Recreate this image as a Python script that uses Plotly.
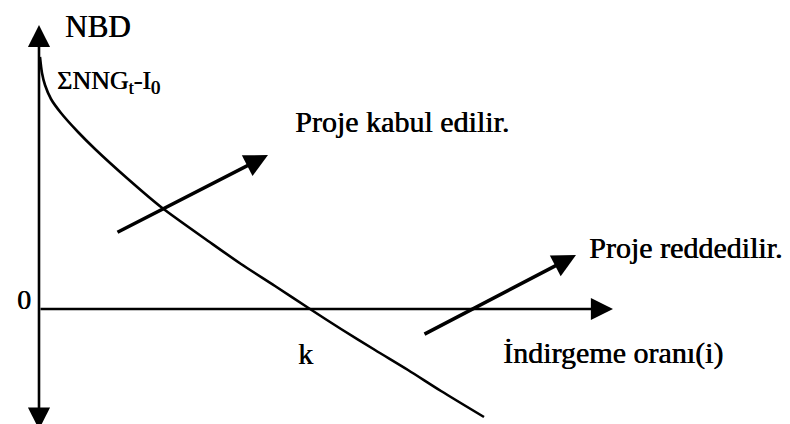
import plotly.graph_objects as go

# NPV (NBD) curve vs. discount rate (schematic units)
rate = [1, 3, 6, 12, 22, 39, 56, 89, 122, 172, 202, 236, 271, 302, 336, 369, 402, 445]
npv = [252, 236, 224, 210, 196, 177, 160, 130, 102, 66, 45, 23, 0, -20, -41, -61, -82, -108]

# axis extents (schematic units)
x_axis_end = 574
y_axis_top = 284
y_axis_bottom = -122

# direction arrows [start, end]
accept_x = [77, 229]
accept_y = [76, 154]
reject_x = [384, 537]
reject_y = [-26, 54]

k_rate = 271

FONT = "Liberation Serif, Times New Roman, serif"

fig = go.Figure()
fig.add_trace(go.Scatter(x=rate, y=npv, mode="lines",
                         line=dict(color="black", width=2.6, shape="spline", smoothing=0.8),
                         hoverinfo="skip", showlegend=False))

ann = []
# horizontal axis
ann.append(dict(x=x_axis_end, y=0, ax=0, ay=0, xref="x", yref="y", axref="x", ayref="y",
                showarrow=True, arrowhead=2, arrowsize=1.7, arrowwidth=2.6, arrowcolor="black", text=""))
# vertical axis (double headed)
ann.append(dict(x=0, y=y_axis_top, ax=0, ay=y_axis_bottom, xref="x", yref="y", axref="x", ayref="y",
                showarrow=True, arrowhead=2, startarrowhead=2, arrowside="end+start",
                arrowsize=1.7, startarrowsize=1.7, arrowwidth=2.6, arrowcolor="black", text=""))
# accept / reject arrows
for xs, ys in ((accept_x, accept_y), (reject_x, reject_y)):
    ann.append(dict(x=xs[1], y=ys[1], ax=xs[0], ay=ys[0], xref="x", yref="y", axref="x", ayref="y",
                    showarrow=True, arrowhead=2, arrowsize=1.3, arrowwidth=3.6, arrowcolor="black", text=""))

def label(text, x, y, size=30, xanchor="left"):
    return dict(text=text, x=x, y=y, xref="x", yref="y", showarrow=False,
                xanchor=xanchor, yanchor="middle",
                font=dict(family=FONT, size=size, color="black", shadow="0.6px 0px 0px black"))

ann += [
    label("NBD", 24, 283, size=31),
    label("ΣNNG<sub>t</sub>-I<sub>0</sub>", 16, 227, size=26),
    label("Proje kabul edilir.", 254, 188),
    label("Proje reddedilir.", 548, 62),
    label("0", -15, 10, size=28, xanchor="center"),
    label("k", k_rate - 14, -44),
    label("İndirgeme oranı(i)", 462, -44),
]

fig.update_layout(
    width=790, height=424, autosize=False,
    margin=dict(l=0, r=0, t=0, b=0),
    paper_bgcolor="white", plot_bgcolor="white",
    xaxis=dict(range=[-31, 759], visible=False, fixedrange=True),
    yaxis=dict(range=[-123, 301], visible=False, fixedrange=True),
    annotations=ann,
    showlegend=False,
)
fig.write_html("out.html")
